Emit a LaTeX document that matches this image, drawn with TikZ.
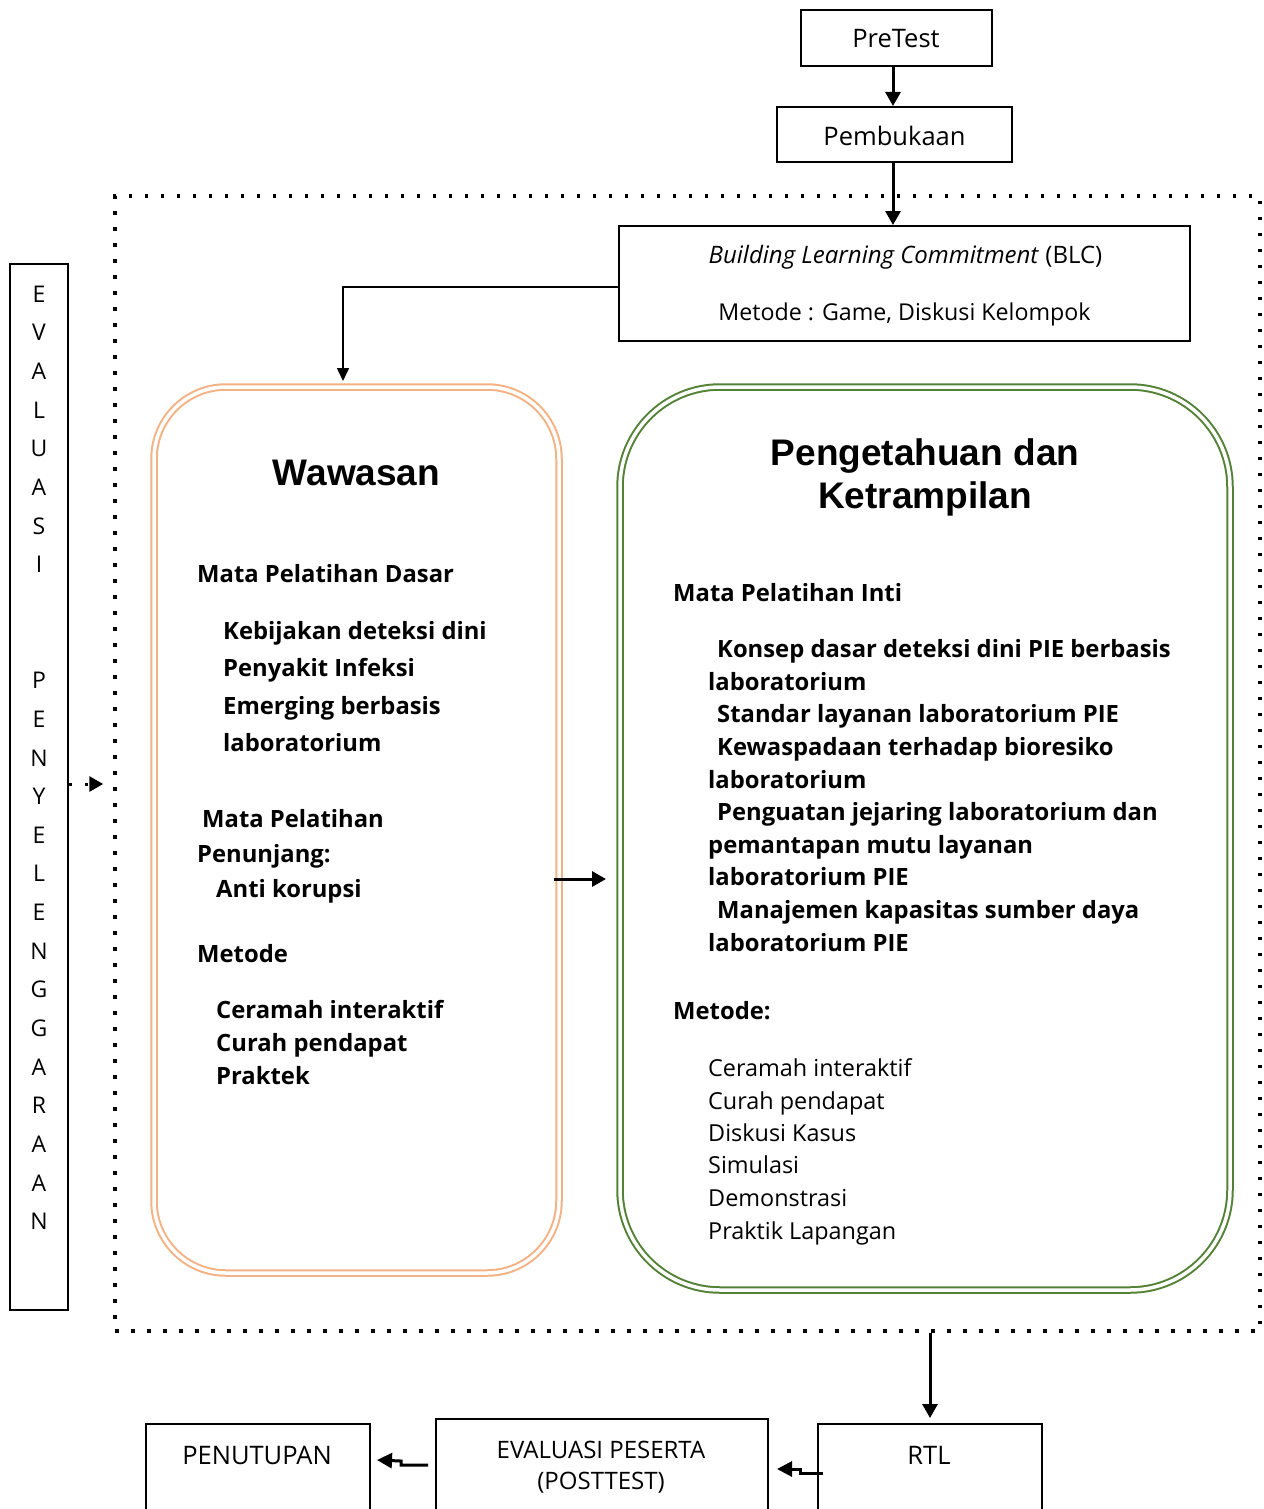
\documentclass[tikz,border=0pt]{standalone}
\usepackage{fontspec}
\setmainfont{Open Sans}
\newfontfamily\arialf{Liberation Sans}
\usetikzlibrary{arrows.meta,calc}
\definecolor{orangeb}{RGB}{244,177,131}
\definecolor{greenb}{RGB}{83,129,53}
\begin{document}
\begin{tikzpicture}[x=1pt,y=-1pt,
  box/.style={draw=black, line width=2pt, inner sep=0pt},
  arr/.style={line width=3pt, -{Triangle[length=14pt,width=15pt]}},
  arrthin/.style={line width=1.6pt, -{Triangle[length=13pt,width=12pt]}},
  jog/.style={line width=3pt, -{Triangle[length=15pt,width=15pt]}},
  dotline/.style={line width=3.5pt, dash pattern=on 3.5pt off 12.5pt},
  txt/.style={font=\fontsize{23}{27}\selectfont, inner sep=0pt},
  big/.style={font=\fontsize{25.5}{30}\selectfont, inner sep=0pt},
  lt/.style={font=\fontsize{23.4}{27}\selectfont, inner sep=0pt, anchor=mid west, yshift=-6pt},
  bt/.style={font=\fontsize{23.8}{27}\selectfont\bfseries, inner sep=0pt, anchor=mid west, yshift=-6pt},
  head/.style={font=\fontsize{37}{43}\selectfont\arialf\bfseries, inner sep=0pt, align=center},
  dbl/.style={line width=2pt, double=white, double distance=3.5pt, inner sep=0pt}
]
\useasboundingbox (0,0) rectangle (1263,1509);

% top boxes
\node[box, minimum width=191, minimum height=56] (pre) at (896.5,38) {};
\node[big] (preT) at (896,39) {PreTest};
\node[box, minimum width=235, minimum height=55] (pem) at (894.5,134.5) {};
\node[big] (pemT) at (894.5,136) {Pembukaan};

% dotted frame
\node[dotline, draw, minimum width=1145, minimum height=1135, inner sep=0pt] (dotbox) at (687.5,763.5) {};

% BLC
\node[box, minimum width=571, minimum height=115] (blc) at (904.5,283.5) {};
\node[font=\fontsize{24}{28}\selectfont, inner sep=0pt] (blcA) at (905.5,257) {\textit{Building Learning Commitment} (BLC)};
\node[font=\fontsize{23.2}{27}\selectfont, inner sep=0pt] (blcB) at (904.5,314) {Metode : Game, Diskusi Kelompok};

\draw[arr] (pre.south -| 893,0) -- (pem.north -| 893,0);
\draw[arr] (pem.south -| 893,0) -- (blc.north -| 893,0);

% rounded boxes
\node[dbl, draw=orangeb, rounded corners=72pt, minimum width=405, minimum height=886] (waw) at (356.5,830) {};
\node[dbl, draw=greenb, rounded corners=100pt, minimum width=610, minimum height=903] (gr) at (925,838.5) {};

\draw[arrthin] ($(blc.west)+(0,3.5)$) -| ($(waw.north)+(-13.5,-5)$);

% Wawasan contents
\node[head] (wawT) at (356.5,473) {Wawasan};
\node[bt] (w1) at (197,574) {Mata Pelatihan Dasar};
\node[bt] (w2) at (223,631) {Kebijakan deteksi dini};
\node[bt] (w3) at (223,668) {Penyakit Infeksi};
\node[bt] (w4) at (223,706) {Emerging berbasis};
\node[bt] (w5) at (223,743) {laboratorium};
\node[bt] (w6) at (202,819) {Mata Pelatihan};
\node[bt] (w7) at (197,854) {Penunjang:};
\node[bt] (w8) at (216,889) {Anti korupsi};
\node[bt] (w9) at (197,954) {Metode};
\node[bt] (w10) at (216,1010) {Ceramah interaktif};
\node[bt] (w11) at (216,1043) {Curah pendapat};
\node[bt] (w12) at (216,1076) {Praktek};

% Pengetahuan contents
\node[head] (grT) at (925,477.5) {Pengetahuan dan\\Ketrampilan};
\node[bt] (g1) at (673,593) {Mata Pelatihan Inti};
\node[bt] (g2) at (717,649) {Konsep dasar deteksi dini PIE berbasis};
\node[bt] (g3) at (708,682) {laboratorium};
\node[bt] (g4) at (717,714) {Standar layanan laboratorium PIE};
\node[bt] (g5) at (717,747) {Kewaspadaan terhadap bioresiko};
\node[bt] (g6) at (708,780) {laboratorium};
\node[bt] (g7) at (717,812) {Penguatan jejaring laboratorium dan};
\node[bt] (g8) at (708,845) {pemantapan mutu layanan};
\node[bt] (g9) at (708,877) {laboratorium PIE};
\node[bt] (g10) at (717,910) {Manajemen kapasitas sumber daya};
\node[bt] (g11) at (708,943) {laboratorium PIE};
\node[bt] (g12) at (673,1011) {Metode:};
\node[lt] (g13) at (708,1068) {Ceramah interaktif};
\node[lt] (g14) at (708,1101) {Curah pendapat};
\node[lt] (g15) at (708,1133) {Diskusi Kasus};
\node[lt] (g16) at (708,1165) {Simulasi};
\node[lt] (g17) at (708,1198) {Demonstrasi};
\node[lt] (g18) at (708,1231) {Praktik Lapangan};

\draw[arr] ($(waw.east)+(-6,49)$) -- ($(gr.west)+(-13,40.5)$);

% left evaluation box
\node[box, minimum width=58, minimum height=1046] (evb) at (39,787) {};
\foreach \l/\i in {E/0,V/1,A/2,L/3,U/4,A/5,S/6,I/7,P/10,E/11,N/12,Y/13,E/14,L/15,E/16,N/17,G/18,G/19,A/20,R/21,A/22,A/23,N/24}
  \node[txt] (ev\i) at (39,294+\i*38.65) {\l};

\draw[line width=3pt, dash pattern=on 3pt off 13pt, -{Triangle[length=14pt,width=15pt]}] ($(evb.east)+(0,-3)$) -- ($(dotbox.west)+(-10,20.5)$);

% bottom boxes
\node[box, minimum width=224, minimum height=95, anchor=north west] (rtl) at (817,1423) {};
\node[big] (rtlT) at (929,1455) {RTL};
\node[box, minimum width=332, minimum height=100, anchor=north west] (eva) at (435,1418) {};
\node[font=\fontsize{24}{28}\selectfont, inner sep=0pt] (evaA) at (601,1450) {EVALUASI PESERTA};
\node[font=\fontsize{24}{28}\selectfont, inner sep=0pt] (evaB) at (601,1483) {(POSTTEST)};
\node[box, minimum width=224, minimum height=95, anchor=north west] (pen) at (145,1423) {};
\node[big] (penT) at (257,1455) {PENUTUPAN};

\draw[arr] (dotbox.south -| rtl.north) -- ([yshift=5pt]rtl.north);

\draw[jog] ($(rtl.north west)+(6,50)$) -- ++(-23,0) -- ++(0,-4) -- ($(eva.north east)+(8,51)$);
\draw[jog] ($(eva.north west)+(-7,47)$) -- ++(-27,0) -- ++(0,-4) -- ($(pen.north east)+(6,37)$);
\end{tikzpicture}
\end{document}
